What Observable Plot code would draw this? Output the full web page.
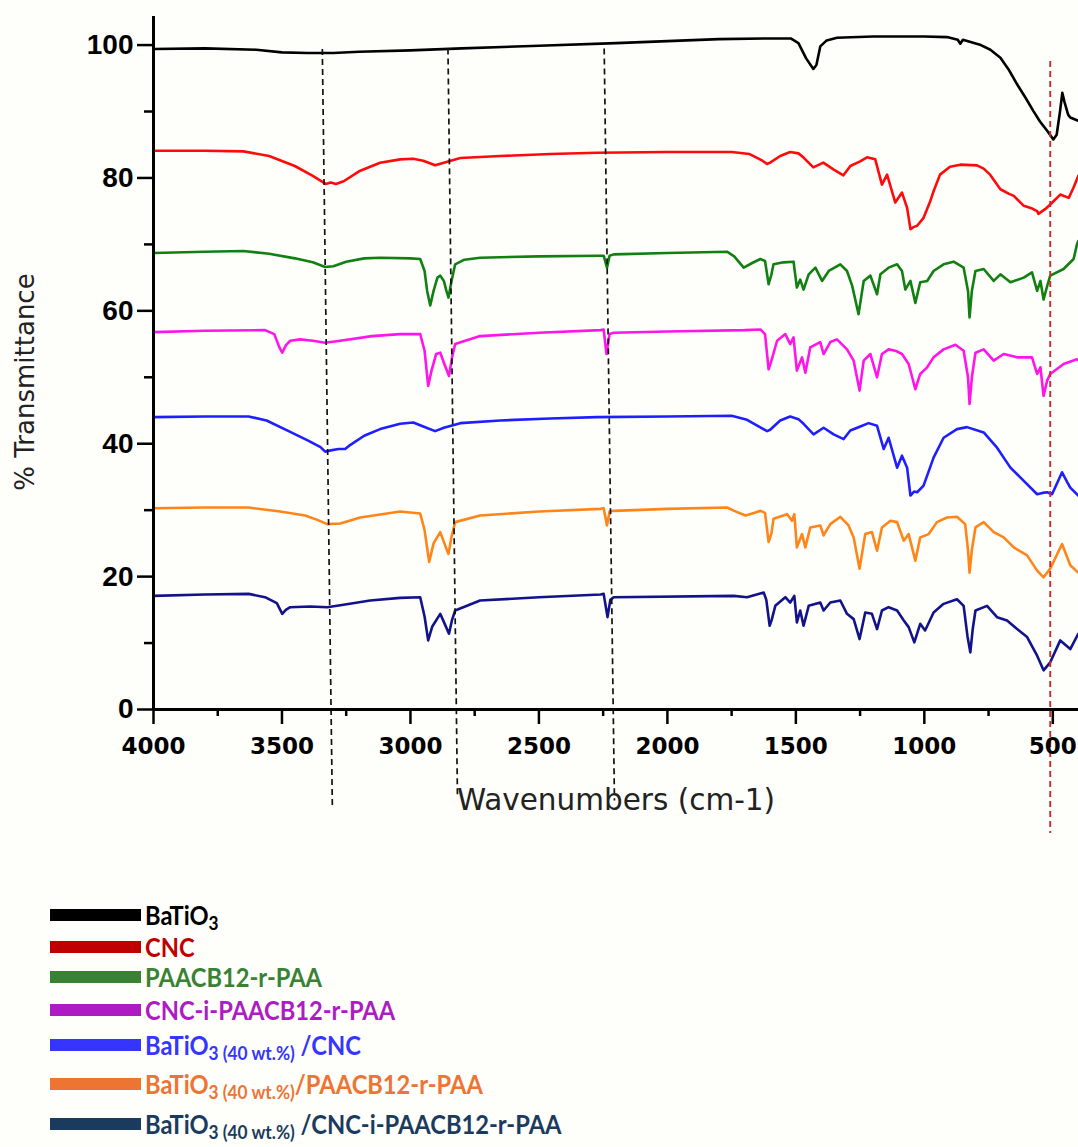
<!DOCTYPE html>
<html>
<head>
<meta charset="utf-8">
<script src="https://cdn.jsdelivr.net/npm/d3@7"></script>
<script src="https://cdn.jsdelivr.net/npm/@observablehq/plot@0.6"></script>
<style>
  html, body { margin: 0; padding: 0; background: #fefefb; }
  #wrap { position: relative; width: 1078px; height: 1147px; overflow: hidden; background: #fefefb; }
  #chart svg { display: block; }
  .lg-row { position: absolute; left: 50px; height: 32px; display: flex; align-items: center; white-space: nowrap; }
  .lg-sw { width: 91px; height: 12px; flex: none; }
  .lg-tx { font-family: Lato, "Noto Sans", sans-serif; font-weight: 700; font-size: 26px; line-height: 1; margin-left: 4px;
           display: inline-block; transform: scaleX(0.91); transform-origin: 0 50%; }
  .lg-tx sub { font-size: 19px; vertical-align: -0.25em; line-height: 0; }
</style>
</head>
<body>
<div id="wrap">
  <div id="chart"></div>
  <div id="legend"></div>
</div>
<script>
// ---------- data (wavenumber cm-1, % transmittance) ----------
const seriesNames = [
  "BaTiO3", "CNC", "PAACB12-r-PAA", "CNC-i-PAACB12-r-PAA",
  "BaTiO3 (40 wt.%)/CNC", "BaTiO3 (40 wt.%)/PAACB12-r-PAA", "BaTiO3 (40 wt.%)/CNC-i-PAACB12-r-PAA"
];
const lineColors = ["#000000", "#ff0a0a", "#118011", "#ff14ea", "#1e1eff", "#ff8519", "#12128a"];
const legendColors = ["#000000", "#c00000", "#398234", "#ad1cc2", "#3535ff", "#ed7433", "#1b3b5e"];

const batio3 = [[4000,99.4],[3800,99.5],[3600,99.3],[3500,98.9],[3400,98.8],[3300,98.8],[3200,99.0],[3000,99.2],[2800,99.5],[2500,99.9],[2200,100.3],[2000,100.6],[1800,100.9],[1600,101.0],[1520,101.0],[1490,100.3],[1460,98.0],[1432,96.4],[1420,97.0],[1405,99.8],[1380,100.7],[1340,101.1],[1200,101.3],[1000,101.3],[912,101.2],[870,100.8],[860,100.2],[850,100.8],[780,100.0],[743,99.3],[704,98.1],[670,96.2],[639,94.1],[605,92.0],[576,90.1],[550,88.5],[522,87.1],[498,85.8],[485,86.5],[472,90.0],[463,92.8],[455,91.5],[440,89.5],[432,89.1],[401,88.6]];

const cnc = [[4000,84.1],[3800,84.1],[3650,84.0],[3550,83.3],[3450,81.8],[3380,80.3],[3330,79.1],[3310,79.3],[3290,79.1],[3260,79.5],[3200,81.0],[3118,82.3],[3040,82.8],[2989,82.9],[2950,82.6],[2904,81.9],[2870,82.3],[2806,83.0],[2650,83.3],[2456,83.6],[2274,83.8],[2000,83.9],[1750,83.9],[1680,83.6],[1630,82.6],[1612,82.1],[1600,82.3],[1561,83.3],[1522,83.9],[1490,83.7],[1471,83.1],[1432,81.6],[1393,82.3],[1354,81.3],[1315,80.4],[1288,81.8],[1250,82.5],[1223,83.1],[1191,82.8],[1165,79.0],[1145,80.5],[1113,76.3],[1087,77.8],[1067,75.5],[1054,72.3],[1042,72.6],[1028,72.8],[1003,74.0],[977,76.5],[964,78.0],[939,80.5],[900,81.7],[860,82.0],[795,81.9],[769,81.4],[744,80.5],[704,78.3],[670,77.6],[652,77.3],[613,75.8],[580,75.4],[561,75.0],[556,74.6],[530,75.3],[510,76.0],[471,77.5],[438,77.0],[420,78.5],[401,80.3]];

const paacb = [[4000,68.7],[3800,68.9],[3650,69.0],[3550,68.6],[3450,67.9],[3380,67.3],[3332,66.6],[3300,66.7],[3250,67.4],[3180,67.9],[3118,68.0],[3000,67.9],[2962,67.8],[2945,66.0],[2935,63.0],[2923,60.8],[2910,63.0],[2895,65.0],[2884,65.3],[2870,64.5],[2860,63.0],[2852,62.0],[2840,64.5],[2826,67.0],[2790,67.7],[2729,68.0],[2500,68.2],[2260,68.3],[2248,68.3],[2235,66.5],[2225,68.3],[2209,68.5],[2000,68.7],[1768,68.9],[1740,68.2],[1703,66.5],[1670,67.2],[1638,67.8],[1620,67.5],[1606,64.0],[1595,65.5],[1587,67.0],[1548,67.3],[1509,67.4],[1496,63.5],[1483,64.7],[1470,63.2],[1450,65.5],[1424,66.5],[1398,64.5],[1372,66.0],[1327,67.0],[1301,66.0],[1281,63.8],[1256,59.5],[1236,64.5],[1210,65.3],[1184,62.5],[1171,65.5],[1139,66.5],[1106,67.0],[1087,66.0],[1074,63.2],[1054,64.5],[1035,61.2],[1016,64.3],[989,64.5],[964,66.0],[925,67.0],[886,67.4],[847,66.5],[830,63.0],[824,59.0],[815,63.0],[801,66.0],[769,66.3],[730,64.5],[704,65.5],[665,64.3],[613,65.0],[581,65.8],[561,63.0],[548,64.5],[536,61.7],[520,64.0],[510,65.3],[458,66.3],[419,67.8],[406,70.0],[401,70.5]];

const cncIPaacb = [[4000,56.8],[3800,57.0],[3566,57.1],[3530,56.5],[3510,54.5],[3499,53.7],[3485,54.8],[3468,55.5],[3429,55.7],[3380,55.5],[3332,55.2],[3273,55.5],[3150,56.2],[3040,56.5],[2962,56.5],[2945,54.0],[2931,48.7],[2918,51.0],[2900,53.5],[2884,53.7],[2868,52.0],[2850,50.2],[2838,53.0],[2826,55.0],[2729,56.2],[2500,56.7],[2260,57.1],[2248,57.2],[2237,53.5],[2225,56.5],[2209,56.7],[2000,56.9],[1700,57.1],[1638,57.2],[1620,56.5],[1606,51.2],[1595,52.5],[1573,55.5],[1541,56.5],[1522,55.0],[1509,56.0],[1496,51.0],[1476,53.0],[1463,50.7],[1444,54.5],[1405,55.3],[1392,53.5],[1366,55.3],[1340,55.7],[1301,54.2],[1275,52.5],[1252,48.0],[1236,52.5],[1210,53.5],[1184,50.0],[1165,53.5],[1139,54.2],[1113,54.0],[1087,53.5],[1061,52.0],[1035,48.2],[1016,50.5],[989,51.5],[964,53.0],[925,54.2],[879,54.9],[847,54.0],[830,50.0],[824,46.0],[815,50.0],[801,53.7],[769,54.2],[730,52.5],[691,53.5],[639,53.0],[581,53.0],[561,50.5],[548,51.5],[536,47.2],[522,49.5],[510,50.5],[458,52.0],[406,52.7],[401,52.6]];

const batio3Cnc = [[4000,44.0],[3800,44.1],[3630,44.1],[3560,43.5],[3480,42.0],[3400,40.5],[3350,39.5],[3332,38.8],[3310,39.0],[3280,39.2],[3254,39.2],[3235,39.8],[3180,41.2],[3118,42.2],[3040,43.0],[2989,43.2],[2950,42.6],[2904,41.9],[2870,42.4],[2806,43.1],[2650,43.5],[2456,43.8],[2274,44.0],[2000,44.1],[1750,44.2],[1690,43.6],[1640,42.5],[1612,41.9],[1600,42.1],[1561,43.5],[1522,44.1],[1490,43.7],[1470,43.0],[1431,41.4],[1392,42.4],[1353,41.4],[1314,40.7],[1288,42.0],[1249,42.6],[1217,43.1],[1184,42.7],[1158,39.2],[1139,40.9],[1106,36.4],[1087,38.2],[1067,36.4],[1054,32.2],[1040,32.8],[1028,32.7],[1003,33.7],[964,37.9],[925,40.9],[873,42.2],[834,42.5],[769,41.7],[717,39.4],[665,36.4],[613,34.4],[561,32.4],[540,32.6],[522,32.7],[503,32.4],[490,33.5],[464,35.7],[445,34.3],[432,33.4],[401,32.2]];

const batio3Paacb = [[4000,30.3],[3800,30.4],[3630,30.4],[3507,29.8],[3410,29.2],[3360,28.5],[3324,27.9],[3273,28.0],[3195,28.9],[3040,29.8],[2962,29.5],[2945,27.0],[2927,22.2],[2910,25.0],[2884,26.7],[2868,25.0],[2852,23.4],[2840,26.0],[2826,28.2],[2729,29.2],[2500,29.8],[2260,30.2],[2248,30.3],[2235,27.7],[2225,29.8],[2209,29.9],[2000,30.2],[1768,30.4],[1740,29.9],[1696,29.2],[1660,29.6],[1638,29.9],[1620,29.6],[1606,25.2],[1595,26.5],[1587,28.7],[1534,29.4],[1515,28.4],[1506,29.4],[1496,24.4],[1476,26.4],[1463,24.4],[1444,27.4],[1405,27.7],[1392,26.2],[1366,27.9],[1327,29.0],[1295,27.7],[1275,25.9],[1252,21.2],[1230,26.4],[1204,26.7],[1184,23.9],[1165,27.4],[1132,28.4],[1106,28.2],[1080,25.4],[1061,26.4],[1035,22.4],[1016,25.9],[983,26.4],[951,28.2],[912,28.9],[873,29.0],[841,27.9],[830,24.0],[824,20.6],[815,24.0],[801,27.4],[769,28.2],[730,26.7],[691,25.9],[652,24.4],[600,23.2],[561,20.9],[536,19.9],[510,21.2],[464,24.9],[432,21.7],[401,20.6]];

const batio3CncIPaacb = [[4000,17.1],[3800,17.3],[3630,17.4],[3566,16.9],[3520,16.0],[3499,14.4],[3485,15.0],[3468,15.4],[3390,15.5],[3324,15.4],[3254,15.8],[3157,16.4],[3040,16.8],[2962,16.9],[2945,14.0],[2931,10.4],[2915,12.5],[2884,14.4],[2868,13.0],[2850,11.4],[2838,13.5],[2826,14.9],[2729,16.4],[2500,16.9],[2260,17.3],[2248,17.4],[2233,13.9],[2222,16.5],[2209,16.9],[1742,17.1],[1690,16.9],[1625,17.6],[1615,16.5],[1602,12.6],[1594,13.5],[1580,15.6],[1541,16.9],[1522,16.1],[1506,17.1],[1496,13.1],[1483,14.9],[1470,12.6],[1450,15.6],[1405,16.1],[1392,14.9],[1366,16.1],[1327,16.4],[1301,14.4],[1275,13.6],[1252,10.6],[1230,14.6],[1204,14.4],[1184,12.1],[1165,14.9],[1139,15.4],[1106,14.9],[1080,13.4],[1061,12.4],[1039,10.1],[1016,12.9],[997,11.9],[964,14.6],[925,15.9],[873,16.6],[847,15.6],[832,11.0],[821,8.6],[812,12.0],[801,14.9],[756,15.6],[717,13.9],[678,13.4],[639,12.1],[600,10.9],[561,8.1],[536,5.9],[510,7.1],[471,10.4],[432,9.1],[401,11.4]];

const seriesValues = [batio3, cnc, paacb, cncIPaacb, batio3Cnc, batio3Paacb, batio3CncIPaacb];

const xTicks = [4000, 3500, 3000, 2500, 2000, 1500, 1000, 500];
const xMinorTicks = [3750, 3250, 2750, 2250, 1750, 1250, 750];
const yTicks = [0, 20, 40, 60, 80, 100];
const yMinorTicks = [10, 30, 50, 70, 90];

// band guides (wavenumber, % transmittance at both ends)
const bandGuides = [
  {x1: 3343, y1: 99.4, x2: 3304, y2: -14.4},
  {x1: 2854, y1: 99.5, x2: 2817, y2: -13.2},
  {x1: 2246, y1: 99.5, x2: 2206, y2: -13.7}
];
const tiBandGuide = [{x1: 510, y1: 97.6, x2: 510, y2: -18.6}];

const xTitle = "Wavenumbers (cm-1)";
const yTitle = "% Transmittance";

const legendMain = ["BaTiO", "CNC", "PAACB12-r-PAA", "CNC-i-PAACB12-r-PAA", "BaTiO", "BaTiO", "BaTiO"];
const legendSub = ["3", "", "", "", "3 (40 wt.%)", "3 (40 wt.%)", "3 (40 wt.%)"];
const legendTail = ["", "", "", "", "\u00a0/CNC", "/PAACB12-r-PAA", "\u00a0/CNC-i-PAACB12-r-PAA"];

// ---------- build ----------
const rows = [];
seriesValues.forEach((vals, i) => vals.forEach(([x, y]) => rows.push({series: seriesNames[i], x, y})));

const chart = Plot.plot({
  width: 1078,
  height: 880,
  marginLeft: 153,
  marginRight: 0,
  marginTop: 16,
  marginBottom: 171,
  style: {background: "transparent", overflow: "visible"},
  x: {domain: [4000, 400], label: null},
  y: {domain: [0, 104.3], label: null},
  color: {domain: seriesNames, range: lineColors},
  marks: [
    Plot.line(rows, {x: "x", y: "y", z: "series", stroke: "series", strokeWidth: 2.6, strokeLinejoin: "round", curve: "linear"}),
    Plot.link(bandGuides, {x1: "x1", y1: "y1", x2: "x2", y2: "y2", stroke: "#111", strokeWidth: 1.7, strokeDasharray: "6,4"}),
    Plot.link(tiBandGuide, {x1: "x1", y1: "y1", x2: "x2", y2: "y2", stroke: "#cc2a2a", strokeWidth: 1.9, strokeDasharray: "6,4"}),
    Plot.ruleY([0], {stroke: "#000", strokeWidth: 3}),
    Plot.ruleX([4000], {stroke: "#000", strokeWidth: 3}),
    Plot.axisX({ticks: xTicks, tickSize: 15, tickPadding: 13, strokeWidth: 2.5, label: null,
      tickFormat: d => String(d), fontSize: 23, fontWeight: "bold", fontFamily: "DejaVu Sans"}),
    Plot.axisX({ticks: xMinorTicks, tickSize: 7, strokeWidth: 2.5, label: null, tickFormat: () => ""}),
    Plot.axisY({ticks: yTicks, tickSize: 16, tickPadding: 4, strokeWidth: 2.5, label: null,
      tickFormat: d => String(d), fontSize: 28, fontWeight: "bold", fontFamily: "Liberation Sans, Arial"}),
    Plot.axisY({ticks: yMinorTicks, tickSize: 9, strokeWidth: 2.5, label: null, tickFormat: () => ""}),
    Plot.text([yTitle], {frameAnchor: "left", dx: -128, dy: 19, rotate: -90, textAnchor: "middle", lineAnchor: "middle",
      fontSize: 26, fontFamily: "DejaVu Sans", fill: "#222"}),
    Plot.text([xTitle], {frameAnchor: "bottom", dy: 91, textAnchor: "middle", lineAnchor: "middle",
      fontSize: 29.5, fontFamily: "DejaVu Sans", fill: "#222"})
  ]
});
document.getElementById("chart").appendChild(chart);

// ---------- legend (below the SVG) ----------
const legendCenters = [915, 947, 977, 1010, 1045, 1084, 1124];
const legend = document.getElementById("legend");
seriesNames.forEach((name, i) => {
  const row = document.createElement("div");
  row.className = "lg-row";
  row.style.top = (legendCenters[i] - 16) + "px";
  const sw = document.createElement("div");
  sw.className = "lg-sw";
  sw.style.background = legendColors[i];
  const tx = document.createElement("span");
  tx.className = "lg-tx";
  tx.style.color = legendColors[i];
  tx.append(legendMain[i]);
  if (legendSub[i]) {
    const s = document.createElement("sub");
    s.textContent = legendSub[i];
    tx.append(s);
  }
  if (legendTail[i]) tx.append(legendTail[i]);
  row.append(sw, tx);
  legend.appendChild(row);
});
</script>
</body>
</html>
